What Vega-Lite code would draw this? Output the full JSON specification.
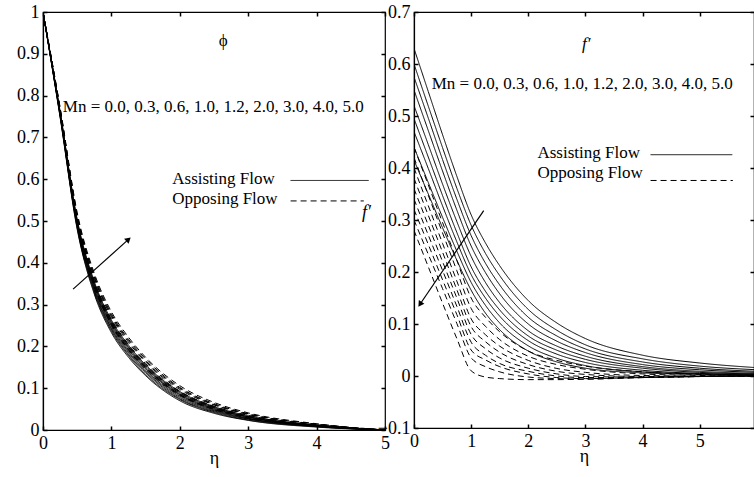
{
  "$schema": "https://vega.github.io/schema/vega-lite/v6.json",
  "background": "white",
  "padding": {"left": 15, "top": 2, "right": 0, "bottom": 0},
  "bounds": "flush",
  "spacing": 29,
  "config": {
    "font": "Liberation Serif",
    "view": {"stroke": "black", "strokeWidth": 1.2},
    "axis": {"grid": false},
    "text": {"font": "Liberation Serif", "fontSize": 17, "color": "black"}
  },
  "datasets": {
    "phi": [
      {"Mn": "0.0", "flow": "Assisting", "eta": 0, "phi": 1}, {"Mn": "0.0", "flow": "Assisting", "eta": 0.25, "phi": 0.748}, {"Mn": "0.0", "flow": "Assisting", "eta": 0.5, "phi": 0.48}, {"Mn": "0.0", "flow": "Assisting", "eta": 0.75, "phi": 0.325}, {"Mn": "0.0", "flow": "Assisting", "eta": 1, "phi": 0.233}, {"Mn": "0.0", "flow": "Assisting", "eta": 1.25, "phi": 0.174}, {"Mn": "0.0", "flow": "Assisting", "eta": 1.5, "phi": 0.13}, {"Mn": "0.0", "flow": "Assisting", "eta": 2, "phi": 0.07}, {"Mn": "0.0", "flow": "Assisting", "eta": 2.5, "phi": 0.04}, {"Mn": "0.0", "flow": "Assisting", "eta": 3, "phi": 0.023}, {"Mn": "0.0", "flow": "Assisting", "eta": 4, "phi": 0.007}, {"Mn": "0.0", "flow": "Assisting", "eta": 5, "phi": 0},
      {"Mn": "0.3", "flow": "Assisting", "eta": 0, "phi": 1}, {"Mn": "0.3", "flow": "Assisting", "eta": 0.25, "phi": 0.75}, {"Mn": "0.3", "flow": "Assisting", "eta": 0.5, "phi": 0.483}, {"Mn": "0.3", "flow": "Assisting", "eta": 0.75, "phi": 0.329}, {"Mn": "0.3", "flow": "Assisting", "eta": 1, "phi": 0.237}, {"Mn": "0.3", "flow": "Assisting", "eta": 1.25, "phi": 0.178}, {"Mn": "0.3", "flow": "Assisting", "eta": 1.5, "phi": 0.133}, {"Mn": "0.3", "flow": "Assisting", "eta": 2, "phi": 0.073}, {"Mn": "0.3", "flow": "Assisting", "eta": 2.5, "phi": 0.042}, {"Mn": "0.3", "flow": "Assisting", "eta": 3, "phi": 0.024}, {"Mn": "0.3", "flow": "Assisting", "eta": 4, "phi": 0.008}, {"Mn": "0.3", "flow": "Assisting", "eta": 5, "phi": 0},
      {"Mn": "0.6", "flow": "Assisting", "eta": 0, "phi": 1}, {"Mn": "0.6", "flow": "Assisting", "eta": 0.25, "phi": 0.752}, {"Mn": "0.6", "flow": "Assisting", "eta": 0.5, "phi": 0.486}, {"Mn": "0.6", "flow": "Assisting", "eta": 0.75, "phi": 0.333}, {"Mn": "0.6", "flow": "Assisting", "eta": 1, "phi": 0.241}, {"Mn": "0.6", "flow": "Assisting", "eta": 1.25, "phi": 0.181}, {"Mn": "0.6", "flow": "Assisting", "eta": 1.5, "phi": 0.137}, {"Mn": "0.6", "flow": "Assisting", "eta": 2, "phi": 0.075}, {"Mn": "0.6", "flow": "Assisting", "eta": 2.5, "phi": 0.044}, {"Mn": "0.6", "flow": "Assisting", "eta": 3, "phi": 0.026}, {"Mn": "0.6", "flow": "Assisting", "eta": 4, "phi": 0.008}, {"Mn": "0.6", "flow": "Assisting", "eta": 5, "phi": 0},
      {"Mn": "1.0", "flow": "Assisting", "eta": 0, "phi": 1}, {"Mn": "1.0", "flow": "Assisting", "eta": 0.25, "phi": 0.753}, {"Mn": "1.0", "flow": "Assisting", "eta": 0.5, "phi": 0.489}, {"Mn": "1.0", "flow": "Assisting", "eta": 0.75, "phi": 0.336}, {"Mn": "1.0", "flow": "Assisting", "eta": 1, "phi": 0.244}, {"Mn": "1.0", "flow": "Assisting", "eta": 1.25, "phi": 0.185}, {"Mn": "1.0", "flow": "Assisting", "eta": 1.5, "phi": 0.14}, {"Mn": "1.0", "flow": "Assisting", "eta": 2, "phi": 0.078}, {"Mn": "1.0", "flow": "Assisting", "eta": 2.5, "phi": 0.046}, {"Mn": "1.0", "flow": "Assisting", "eta": 3, "phi": 0.027}, {"Mn": "1.0", "flow": "Assisting", "eta": 4, "phi": 0.009}, {"Mn": "1.0", "flow": "Assisting", "eta": 5, "phi": 0},
      {"Mn": "1.2", "flow": "Assisting", "eta": 0, "phi": 1}, {"Mn": "1.2", "flow": "Assisting", "eta": 0.25, "phi": 0.755}, {"Mn": "1.2", "flow": "Assisting", "eta": 0.5, "phi": 0.492}, {"Mn": "1.2", "flow": "Assisting", "eta": 0.75, "phi": 0.34}, {"Mn": "1.2", "flow": "Assisting", "eta": 1, "phi": 0.248}, {"Mn": "1.2", "flow": "Assisting", "eta": 1.25, "phi": 0.188}, {"Mn": "1.2", "flow": "Assisting", "eta": 1.5, "phi": 0.143}, {"Mn": "1.2", "flow": "Assisting", "eta": 2, "phi": 0.081}, {"Mn": "1.2", "flow": "Assisting", "eta": 2.5, "phi": 0.048}, {"Mn": "1.2", "flow": "Assisting", "eta": 3, "phi": 0.028}, {"Mn": "1.2", "flow": "Assisting", "eta": 4, "phi": 0.009}, {"Mn": "1.2", "flow": "Assisting", "eta": 5, "phi": 0},
      {"Mn": "2.0", "flow": "Assisting", "eta": 0, "phi": 1}, {"Mn": "2.0", "flow": "Assisting", "eta": 0.25, "phi": 0.757}, {"Mn": "2.0", "flow": "Assisting", "eta": 0.5, "phi": 0.495}, {"Mn": "2.0", "flow": "Assisting", "eta": 0.75, "phi": 0.344}, {"Mn": "2.0", "flow": "Assisting", "eta": 1, "phi": 0.252}, {"Mn": "2.0", "flow": "Assisting", "eta": 1.25, "phi": 0.192}, {"Mn": "2.0", "flow": "Assisting", "eta": 1.5, "phi": 0.147}, {"Mn": "2.0", "flow": "Assisting", "eta": 2, "phi": 0.084}, {"Mn": "2.0", "flow": "Assisting", "eta": 2.5, "phi": 0.05}, {"Mn": "2.0", "flow": "Assisting", "eta": 3, "phi": 0.03}, {"Mn": "2.0", "flow": "Assisting", "eta": 4, "phi": 0.01}, {"Mn": "2.0", "flow": "Assisting", "eta": 5, "phi": 0},
      {"Mn": "3.0", "flow": "Assisting", "eta": 0, "phi": 1}, {"Mn": "3.0", "flow": "Assisting", "eta": 0.25, "phi": 0.759}, {"Mn": "3.0", "flow": "Assisting", "eta": 0.5, "phi": 0.498}, {"Mn": "3.0", "flow": "Assisting", "eta": 0.75, "phi": 0.348}, {"Mn": "3.0", "flow": "Assisting", "eta": 1, "phi": 0.256}, {"Mn": "3.0", "flow": "Assisting", "eta": 1.25, "phi": 0.196}, {"Mn": "3.0", "flow": "Assisting", "eta": 1.5, "phi": 0.15}, {"Mn": "3.0", "flow": "Assisting", "eta": 2, "phi": 0.086}, {"Mn": "3.0", "flow": "Assisting", "eta": 2.5, "phi": 0.052}, {"Mn": "3.0", "flow": "Assisting", "eta": 3, "phi": 0.031}, {"Mn": "3.0", "flow": "Assisting", "eta": 4, "phi": 0.011}, {"Mn": "3.0", "flow": "Assisting", "eta": 5, "phi": 0},
      {"Mn": "4.0", "flow": "Assisting", "eta": 0, "phi": 1}, {"Mn": "4.0", "flow": "Assisting", "eta": 0.25, "phi": 0.761}, {"Mn": "4.0", "flow": "Assisting", "eta": 0.5, "phi": 0.501}, {"Mn": "4.0", "flow": "Assisting", "eta": 0.75, "phi": 0.351}, {"Mn": "4.0", "flow": "Assisting", "eta": 1, "phi": 0.259}, {"Mn": "4.0", "flow": "Assisting", "eta": 1.25, "phi": 0.199}, {"Mn": "4.0", "flow": "Assisting", "eta": 1.5, "phi": 0.153}, {"Mn": "4.0", "flow": "Assisting", "eta": 2, "phi": 0.089}, {"Mn": "4.0", "flow": "Assisting", "eta": 2.5, "phi": 0.054}, {"Mn": "4.0", "flow": "Assisting", "eta": 3, "phi": 0.032}, {"Mn": "4.0", "flow": "Assisting", "eta": 4, "phi": 0.011}, {"Mn": "4.0", "flow": "Assisting", "eta": 5, "phi": 0},
      {"Mn": "5.0", "flow": "Assisting", "eta": 0, "phi": 1}, {"Mn": "5.0", "flow": "Assisting", "eta": 0.25, "phi": 0.762}, {"Mn": "5.0", "flow": "Assisting", "eta": 0.5, "phi": 0.504}, {"Mn": "5.0", "flow": "Assisting", "eta": 0.75, "phi": 0.355}, {"Mn": "5.0", "flow": "Assisting", "eta": 1, "phi": 0.263}, {"Mn": "5.0", "flow": "Assisting", "eta": 1.25, "phi": 0.203}, {"Mn": "5.0", "flow": "Assisting", "eta": 1.5, "phi": 0.156}, {"Mn": "5.0", "flow": "Assisting", "eta": 2, "phi": 0.092}, {"Mn": "5.0", "flow": "Assisting", "eta": 2.5, "phi": 0.056}, {"Mn": "5.0", "flow": "Assisting", "eta": 3, "phi": 0.034}, {"Mn": "5.0", "flow": "Assisting", "eta": 4, "phi": 0.012}, {"Mn": "5.0", "flow": "Assisting", "eta": 5, "phi": 0},
      {"Mn": "0.0", "flow": "Opposing", "eta": 0, "phi": 1}, {"Mn": "0.0", "flow": "Opposing", "eta": 0.25, "phi": 0.756}, {"Mn": "0.0", "flow": "Opposing", "eta": 0.5, "phi": 0.494}, {"Mn": "0.0", "flow": "Opposing", "eta": 0.75, "phi": 0.343}, {"Mn": "0.0", "flow": "Opposing", "eta": 1, "phi": 0.251}, {"Mn": "0.0", "flow": "Opposing", "eta": 1.25, "phi": 0.191}, {"Mn": "0.0", "flow": "Opposing", "eta": 1.5, "phi": 0.145}, {"Mn": "0.0", "flow": "Opposing", "eta": 2, "phi": 0.083}, {"Mn": "0.0", "flow": "Opposing", "eta": 2.5, "phi": 0.049}, {"Mn": "0.0", "flow": "Opposing", "eta": 3, "phi": 0.029}, {"Mn": "0.0", "flow": "Opposing", "eta": 4, "phi": 0.01}, {"Mn": "0.0", "flow": "Opposing", "eta": 5, "phi": 0},
      {"Mn": "0.3", "flow": "Opposing", "eta": 0, "phi": 1}, {"Mn": "0.3", "flow": "Opposing", "eta": 0.25, "phi": 0.758}, {"Mn": "0.3", "flow": "Opposing", "eta": 0.5, "phi": 0.497}, {"Mn": "0.3", "flow": "Opposing", "eta": 0.75, "phi": 0.346}, {"Mn": "0.3", "flow": "Opposing", "eta": 1, "phi": 0.254}, {"Mn": "0.3", "flow": "Opposing", "eta": 1.25, "phi": 0.194}, {"Mn": "0.3", "flow": "Opposing", "eta": 1.5, "phi": 0.149}, {"Mn": "0.3", "flow": "Opposing", "eta": 2, "phi": 0.085}, {"Mn": "0.3", "flow": "Opposing", "eta": 2.5, "phi": 0.051}, {"Mn": "0.3", "flow": "Opposing", "eta": 3, "phi": 0.031}, {"Mn": "0.3", "flow": "Opposing", "eta": 4, "phi": 0.01}, {"Mn": "0.3", "flow": "Opposing", "eta": 5, "phi": 0},
      {"Mn": "0.6", "flow": "Opposing", "eta": 0, "phi": 1}, {"Mn": "0.6", "flow": "Opposing", "eta": 0.25, "phi": 0.76}, {"Mn": "0.6", "flow": "Opposing", "eta": 0.5, "phi": 0.5}, {"Mn": "0.6", "flow": "Opposing", "eta": 0.75, "phi": 0.35}, {"Mn": "0.6", "flow": "Opposing", "eta": 1, "phi": 0.258}, {"Mn": "0.6", "flow": "Opposing", "eta": 1.25, "phi": 0.198}, {"Mn": "0.6", "flow": "Opposing", "eta": 1.5, "phi": 0.152}, {"Mn": "0.6", "flow": "Opposing", "eta": 2, "phi": 0.088}, {"Mn": "0.6", "flow": "Opposing", "eta": 2.5, "phi": 0.053}, {"Mn": "0.6", "flow": "Opposing", "eta": 3, "phi": 0.032}, {"Mn": "0.6", "flow": "Opposing", "eta": 4, "phi": 0.011}, {"Mn": "0.6", "flow": "Opposing", "eta": 5, "phi": 0},
      {"Mn": "1.0", "flow": "Opposing", "eta": 0, "phi": 1}, {"Mn": "1.0", "flow": "Opposing", "eta": 0.25, "phi": 0.762}, {"Mn": "1.0", "flow": "Opposing", "eta": 0.5, "phi": 0.503}, {"Mn": "1.0", "flow": "Opposing", "eta": 0.75, "phi": 0.354}, {"Mn": "1.0", "flow": "Opposing", "eta": 1, "phi": 0.262}, {"Mn": "1.0", "flow": "Opposing", "eta": 1.25, "phi": 0.202}, {"Mn": "1.0", "flow": "Opposing", "eta": 1.5, "phi": 0.155}, {"Mn": "1.0", "flow": "Opposing", "eta": 2, "phi": 0.091}, {"Mn": "1.0", "flow": "Opposing", "eta": 2.5, "phi": 0.055}, {"Mn": "1.0", "flow": "Opposing", "eta": 3, "phi": 0.033}, {"Mn": "1.0", "flow": "Opposing", "eta": 4, "phi": 0.012}, {"Mn": "1.0", "flow": "Opposing", "eta": 5, "phi": 0},
      {"Mn": "1.2", "flow": "Opposing", "eta": 0, "phi": 1}, {"Mn": "1.2", "flow": "Opposing", "eta": 0.25, "phi": 0.764}, {"Mn": "1.2", "flow": "Opposing", "eta": 0.5, "phi": 0.506}, {"Mn": "1.2", "flow": "Opposing", "eta": 0.75, "phi": 0.358}, {"Mn": "1.2", "flow": "Opposing", "eta": 1, "phi": 0.266}, {"Mn": "1.2", "flow": "Opposing", "eta": 1.25, "phi": 0.205}, {"Mn": "1.2", "flow": "Opposing", "eta": 1.5, "phi": 0.159}, {"Mn": "1.2", "flow": "Opposing", "eta": 2, "phi": 0.093}, {"Mn": "1.2", "flow": "Opposing", "eta": 2.5, "phi": 0.057}, {"Mn": "1.2", "flow": "Opposing", "eta": 3, "phi": 0.035}, {"Mn": "1.2", "flow": "Opposing", "eta": 4, "phi": 0.012}, {"Mn": "1.2", "flow": "Opposing", "eta": 5, "phi": 0},
      {"Mn": "2.0", "flow": "Opposing", "eta": 0, "phi": 1}, {"Mn": "2.0", "flow": "Opposing", "eta": 0.25, "phi": 0.766}, {"Mn": "2.0", "flow": "Opposing", "eta": 0.5, "phi": 0.51}, {"Mn": "2.0", "flow": "Opposing", "eta": 0.75, "phi": 0.363}, {"Mn": "2.0", "flow": "Opposing", "eta": 1, "phi": 0.271}, {"Mn": "2.0", "flow": "Opposing", "eta": 1.25, "phi": 0.21}, {"Mn": "2.0", "flow": "Opposing", "eta": 1.5, "phi": 0.163}, {"Mn": "2.0", "flow": "Opposing", "eta": 2, "phi": 0.097}, {"Mn": "2.0", "flow": "Opposing", "eta": 2.5, "phi": 0.06}, {"Mn": "2.0", "flow": "Opposing", "eta": 3, "phi": 0.037}, {"Mn": "2.0", "flow": "Opposing", "eta": 4, "phi": 0.013}, {"Mn": "2.0", "flow": "Opposing", "eta": 5, "phi": 0},
      {"Mn": "3.0", "flow": "Opposing", "eta": 0, "phi": 1}, {"Mn": "3.0", "flow": "Opposing", "eta": 0.25, "phi": 0.768}, {"Mn": "3.0", "flow": "Opposing", "eta": 0.5, "phi": 0.513}, {"Mn": "3.0", "flow": "Opposing", "eta": 0.75, "phi": 0.366}, {"Mn": "3.0", "flow": "Opposing", "eta": 1, "phi": 0.274}, {"Mn": "3.0", "flow": "Opposing", "eta": 1.25, "phi": 0.214}, {"Mn": "3.0", "flow": "Opposing", "eta": 1.5, "phi": 0.166}, {"Mn": "3.0", "flow": "Opposing", "eta": 2, "phi": 0.1}, {"Mn": "3.0", "flow": "Opposing", "eta": 2.5, "phi": 0.061}, {"Mn": "3.0", "flow": "Opposing", "eta": 3, "phi": 0.038}, {"Mn": "3.0", "flow": "Opposing", "eta": 4, "phi": 0.014}, {"Mn": "3.0", "flow": "Opposing", "eta": 5, "phi": 0},
      {"Mn": "4.0", "flow": "Opposing", "eta": 0, "phi": 1}, {"Mn": "4.0", "flow": "Opposing", "eta": 0.25, "phi": 0.77}, {"Mn": "4.0", "flow": "Opposing", "eta": 0.5, "phi": 0.516}, {"Mn": "4.0", "flow": "Opposing", "eta": 0.75, "phi": 0.37}, {"Mn": "4.0", "flow": "Opposing", "eta": 1, "phi": 0.278}, {"Mn": "4.0", "flow": "Opposing", "eta": 1.25, "phi": 0.217}, {"Mn": "4.0", "flow": "Opposing", "eta": 1.5, "phi": 0.17}, {"Mn": "4.0", "flow": "Opposing", "eta": 2, "phi": 0.102}, {"Mn": "4.0", "flow": "Opposing", "eta": 2.5, "phi": 0.063}, {"Mn": "4.0", "flow": "Opposing", "eta": 3, "phi": 0.039}, {"Mn": "4.0", "flow": "Opposing", "eta": 4, "phi": 0.014}, {"Mn": "4.0", "flow": "Opposing", "eta": 5, "phi": 0},
      {"Mn": "5.0", "flow": "Opposing", "eta": 0, "phi": 1}, {"Mn": "5.0", "flow": "Opposing", "eta": 0.25, "phi": 0.772}, {"Mn": "5.0", "flow": "Opposing", "eta": 0.5, "phi": 0.52}, {"Mn": "5.0", "flow": "Opposing", "eta": 0.75, "phi": 0.375}, {"Mn": "5.0", "flow": "Opposing", "eta": 1, "phi": 0.283}, {"Mn": "5.0", "flow": "Opposing", "eta": 1.25, "phi": 0.222}, {"Mn": "5.0", "flow": "Opposing", "eta": 1.5, "phi": 0.174}, {"Mn": "5.0", "flow": "Opposing", "eta": 2, "phi": 0.106}, {"Mn": "5.0", "flow": "Opposing", "eta": 2.5, "phi": 0.066}, {"Mn": "5.0", "flow": "Opposing", "eta": 3, "phi": 0.041}, {"Mn": "5.0", "flow": "Opposing", "eta": 4, "phi": 0.015}, {"Mn": "5.0", "flow": "Opposing", "eta": 5, "phi": 0}
    ],
    "fp": [
      {"Mn": "0.0", "flow": "Assisting", "eta": 0, "fp": 0.63}, {"Mn": "0.0", "flow": "Assisting", "eta": 0.25, "fp": 0.547}, {"Mn": "0.0", "flow": "Assisting", "eta": 0.5, "fp": 0.464}, {"Mn": "0.0", "flow": "Assisting", "eta": 0.75, "fp": 0.384}, {"Mn": "0.0", "flow": "Assisting", "eta": 1, "fp": 0.31}, {"Mn": "0.0", "flow": "Assisting", "eta": 1.25, "fp": 0.256}, {"Mn": "0.0", "flow": "Assisting", "eta": 1.5, "fp": 0.212}, {"Mn": "0.0", "flow": "Assisting", "eta": 2, "fp": 0.145}, {"Mn": "0.0", "flow": "Assisting", "eta": 2.5, "fp": 0.102}, {"Mn": "0.0", "flow": "Assisting", "eta": 3, "fp": 0.072}, {"Mn": "0.0", "flow": "Assisting", "eta": 4, "fp": 0.04}, {"Mn": "0.0", "flow": "Assisting", "eta": 5, "fp": 0.025}, {"Mn": "0.0", "flow": "Assisting", "eta": 6, "fp": 0.016},
      {"Mn": "0.3", "flow": "Assisting", "eta": 0, "fp": 0.6}, {"Mn": "0.3", "flow": "Assisting", "eta": 0.25, "fp": 0.519}, {"Mn": "0.3", "flow": "Assisting", "eta": 0.5, "fp": 0.439}, {"Mn": "0.3", "flow": "Assisting", "eta": 0.75, "fp": 0.361}, {"Mn": "0.3", "flow": "Assisting", "eta": 1, "fp": 0.29}, {"Mn": "0.3", "flow": "Assisting", "eta": 1.25, "fp": 0.236}, {"Mn": "0.3", "flow": "Assisting", "eta": 1.5, "fp": 0.193}, {"Mn": "0.3", "flow": "Assisting", "eta": 2, "fp": 0.128}, {"Mn": "0.3", "flow": "Assisting", "eta": 2.5, "fp": 0.088}, {"Mn": "0.3", "flow": "Assisting", "eta": 3, "fp": 0.06}, {"Mn": "0.3", "flow": "Assisting", "eta": 4, "fp": 0.033}, {"Mn": "0.3", "flow": "Assisting", "eta": 5, "fp": 0.019}, {"Mn": "0.3", "flow": "Assisting", "eta": 6, "fp": 0.012},
      {"Mn": "0.6", "flow": "Assisting", "eta": 0, "fp": 0.575}, {"Mn": "0.6", "flow": "Assisting", "eta": 0.25, "fp": 0.496}, {"Mn": "0.6", "flow": "Assisting", "eta": 0.5, "fp": 0.416}, {"Mn": "0.6", "flow": "Assisting", "eta": 0.75, "fp": 0.34}, {"Mn": "0.6", "flow": "Assisting", "eta": 1, "fp": 0.27}, {"Mn": "0.6", "flow": "Assisting", "eta": 1.25, "fp": 0.217}, {"Mn": "0.6", "flow": "Assisting", "eta": 1.5, "fp": 0.175}, {"Mn": "0.6", "flow": "Assisting", "eta": 2, "fp": 0.113}, {"Mn": "0.6", "flow": "Assisting", "eta": 2.5, "fp": 0.077}, {"Mn": "0.6", "flow": "Assisting", "eta": 3, "fp": 0.052}, {"Mn": "0.6", "flow": "Assisting", "eta": 4, "fp": 0.027}, {"Mn": "0.6", "flow": "Assisting", "eta": 5, "fp": 0.015}, {"Mn": "0.6", "flow": "Assisting", "eta": 6, "fp": 0.009},
      {"Mn": "1.0", "flow": "Assisting", "eta": 0, "fp": 0.55}, {"Mn": "1.0", "flow": "Assisting", "eta": 0.25, "fp": 0.472}, {"Mn": "1.0", "flow": "Assisting", "eta": 0.5, "fp": 0.394}, {"Mn": "1.0", "flow": "Assisting", "eta": 0.75, "fp": 0.319}, {"Mn": "1.0", "flow": "Assisting", "eta": 1, "fp": 0.25}, {"Mn": "1.0", "flow": "Assisting", "eta": 1.25, "fp": 0.199}, {"Mn": "1.0", "flow": "Assisting", "eta": 1.5, "fp": 0.158}, {"Mn": "1.0", "flow": "Assisting", "eta": 2, "fp": 0.1}, {"Mn": "1.0", "flow": "Assisting", "eta": 2.5, "fp": 0.067}, {"Mn": "1.0", "flow": "Assisting", "eta": 3, "fp": 0.045}, {"Mn": "1.0", "flow": "Assisting", "eta": 4, "fp": 0.022}, {"Mn": "1.0", "flow": "Assisting", "eta": 5, "fp": 0.012}, {"Mn": "1.0", "flow": "Assisting", "eta": 6, "fp": 0.007},
      {"Mn": "1.2", "flow": "Assisting", "eta": 0, "fp": 0.52}, {"Mn": "1.2", "flow": "Assisting", "eta": 0.25, "fp": 0.445}, {"Mn": "1.2", "flow": "Assisting", "eta": 0.5, "fp": 0.369}, {"Mn": "1.2", "flow": "Assisting", "eta": 0.75, "fp": 0.297}, {"Mn": "1.2", "flow": "Assisting", "eta": 1, "fp": 0.23}, {"Mn": "1.2", "flow": "Assisting", "eta": 1.25, "fp": 0.18}, {"Mn": "1.2", "flow": "Assisting", "eta": 1.5, "fp": 0.141}, {"Mn": "1.2", "flow": "Assisting", "eta": 2, "fp": 0.087}, {"Mn": "1.2", "flow": "Assisting", "eta": 2.5, "fp": 0.0575}, {"Mn": "1.2", "flow": "Assisting", "eta": 3, "fp": 0.038}, {"Mn": "1.2", "flow": "Assisting", "eta": 4, "fp": 0.018}, {"Mn": "1.2", "flow": "Assisting", "eta": 5, "fp": 0.009}, {"Mn": "1.2", "flow": "Assisting", "eta": 6, "fp": 0.005},
      {"Mn": "2.0", "flow": "Assisting", "eta": 0, "fp": 0.495}, {"Mn": "2.0", "flow": "Assisting", "eta": 0.25, "fp": 0.421}, {"Mn": "2.0", "flow": "Assisting", "eta": 0.5, "fp": 0.347}, {"Mn": "2.0", "flow": "Assisting", "eta": 0.75, "fp": 0.276}, {"Mn": "2.0", "flow": "Assisting", "eta": 1, "fp": 0.21}, {"Mn": "2.0", "flow": "Assisting", "eta": 1.25, "fp": 0.163}, {"Mn": "2.0", "flow": "Assisting", "eta": 1.5, "fp": 0.127}, {"Mn": "2.0", "flow": "Assisting", "eta": 2, "fp": 0.077}, {"Mn": "2.0", "flow": "Assisting", "eta": 2.5, "fp": 0.0496}, {"Mn": "2.0", "flow": "Assisting", "eta": 3, "fp": 0.032}, {"Mn": "2.0", "flow": "Assisting", "eta": 4, "fp": 0.015}, {"Mn": "2.0", "flow": "Assisting", "eta": 5, "fp": 0.007}, {"Mn": "2.0", "flow": "Assisting", "eta": 6, "fp": 0.004},
      {"Mn": "3.0", "flow": "Assisting", "eta": 0, "fp": 0.47}, {"Mn": "3.0", "flow": "Assisting", "eta": 0.25, "fp": 0.399}, {"Mn": "3.0", "flow": "Assisting", "eta": 0.5, "fp": 0.327}, {"Mn": "3.0", "flow": "Assisting", "eta": 0.75, "fp": 0.258}, {"Mn": "3.0", "flow": "Assisting", "eta": 1, "fp": 0.195}, {"Mn": "3.0", "flow": "Assisting", "eta": 1.25, "fp": 0.15}, {"Mn": "3.0", "flow": "Assisting", "eta": 1.5, "fp": 0.115}, {"Mn": "3.0", "flow": "Assisting", "eta": 2, "fp": 0.068}, {"Mn": "3.0", "flow": "Assisting", "eta": 2.5, "fp": 0.042}, {"Mn": "3.0", "flow": "Assisting", "eta": 3, "fp": 0.026}, {"Mn": "3.0", "flow": "Assisting", "eta": 4, "fp": 0.011}, {"Mn": "3.0", "flow": "Assisting", "eta": 5, "fp": 0.005}, {"Mn": "3.0", "flow": "Assisting", "eta": 6, "fp": 0.003},
      {"Mn": "4.0", "flow": "Assisting", "eta": 0, "fp": 0.44}, {"Mn": "4.0", "flow": "Assisting", "eta": 0.25, "fp": 0.372}, {"Mn": "4.0", "flow": "Assisting", "eta": 0.5, "fp": 0.305}, {"Mn": "4.0", "flow": "Assisting", "eta": 0.75, "fp": 0.24}, {"Mn": "4.0", "flow": "Assisting", "eta": 1, "fp": 0.18}, {"Mn": "4.0", "flow": "Assisting", "eta": 1.25, "fp": 0.136}, {"Mn": "4.0", "flow": "Assisting", "eta": 1.5, "fp": 0.102}, {"Mn": "4.0", "flow": "Assisting", "eta": 2, "fp": 0.058}, {"Mn": "4.0", "flow": "Assisting", "eta": 2.5, "fp": 0.034}, {"Mn": "4.0", "flow": "Assisting", "eta": 3, "fp": 0.02}, {"Mn": "4.0", "flow": "Assisting", "eta": 4, "fp": 0.008}, {"Mn": "4.0", "flow": "Assisting", "eta": 5, "fp": 0.004}, {"Mn": "4.0", "flow": "Assisting", "eta": 6, "fp": 0.002},
      {"Mn": "5.0", "flow": "Assisting", "eta": 0, "fp": 0.415}, {"Mn": "5.0", "flow": "Assisting", "eta": 0.25, "fp": 0.35}, {"Mn": "5.0", "flow": "Assisting", "eta": 0.5, "fp": 0.285}, {"Mn": "5.0", "flow": "Assisting", "eta": 0.75, "fp": 0.2225}, {"Mn": "5.0", "flow": "Assisting", "eta": 1, "fp": 0.165}, {"Mn": "5.0", "flow": "Assisting", "eta": 1.25, "fp": 0.121}, {"Mn": "5.0", "flow": "Assisting", "eta": 1.5, "fp": 0.089}, {"Mn": "5.0", "flow": "Assisting", "eta": 2, "fp": 0.048}, {"Mn": "5.0", "flow": "Assisting", "eta": 2.5, "fp": 0.027}, {"Mn": "5.0", "flow": "Assisting", "eta": 3, "fp": 0.015}, {"Mn": "5.0", "flow": "Assisting", "eta": 4, "fp": 0.006}, {"Mn": "5.0", "flow": "Assisting", "eta": 5, "fp": 0.003}, {"Mn": "5.0", "flow": "Assisting", "eta": 6, "fp": 0.001},
      {"Mn": "0.0", "flow": "Opposing", "eta": 0, "fp": 0.44}, {"Mn": "0.0", "flow": "Opposing", "eta": 0.25, "fp": 0.3675}, {"Mn": "0.0", "flow": "Opposing", "eta": 0.5, "fp": 0.295}, {"Mn": "0.0", "flow": "Opposing", "eta": 0.75, "fp": 0.2225}, {"Mn": "0.0", "flow": "Opposing", "eta": 1, "fp": 0.15}, {"Mn": "0.0", "flow": "Opposing", "eta": 1.25, "fp": 0.113}, {"Mn": "0.0", "flow": "Opposing", "eta": 1.5, "fp": 0.085}, {"Mn": "0.0", "flow": "Opposing", "eta": 2, "fp": 0.048}, {"Mn": "0.0", "flow": "Opposing", "eta": 2.5, "fp": 0.03}, {"Mn": "0.0", "flow": "Opposing", "eta": 3, "fp": 0.019}, {"Mn": "0.0", "flow": "Opposing", "eta": 4, "fp": 0.008}, {"Mn": "0.0", "flow": "Opposing", "eta": 5, "fp": 0.003}, {"Mn": "0.0", "flow": "Opposing", "eta": 6, "fp": 0.001},
      {"Mn": "0.3", "flow": "Opposing", "eta": 0, "fp": 0.42}, {"Mn": "0.3", "flow": "Opposing", "eta": 0.25, "fp": 0.3475}, {"Mn": "0.3", "flow": "Opposing", "eta": 0.5, "fp": 0.275}, {"Mn": "0.3", "flow": "Opposing", "eta": 0.75, "fp": 0.2025}, {"Mn": "0.3", "flow": "Opposing", "eta": 1, "fp": 0.13}, {"Mn": "0.3", "flow": "Opposing", "eta": 1.25, "fp": 0.0956}, {"Mn": "0.3", "flow": "Opposing", "eta": 1.5, "fp": 0.07}, {"Mn": "0.3", "flow": "Opposing", "eta": 2, "fp": 0.038}, {"Mn": "0.3", "flow": "Opposing", "eta": 2.5, "fp": 0.022}, {"Mn": "0.3", "flow": "Opposing", "eta": 3, "fp": 0.013}, {"Mn": "0.3", "flow": "Opposing", "eta": 4, "fp": 0.004}, {"Mn": "0.3", "flow": "Opposing", "eta": 5, "fp": 0.001}, {"Mn": "0.3", "flow": "Opposing", "eta": 6, "fp": 0},
      {"Mn": "0.6", "flow": "Opposing", "eta": 0, "fp": 0.4}, {"Mn": "0.6", "flow": "Opposing", "eta": 0.25, "fp": 0.3275}, {"Mn": "0.6", "flow": "Opposing", "eta": 0.5, "fp": 0.255}, {"Mn": "0.6", "flow": "Opposing", "eta": 0.75, "fp": 0.1825}, {"Mn": "0.6", "flow": "Opposing", "eta": 1, "fp": 0.11}, {"Mn": "0.6", "flow": "Opposing", "eta": 1.25, "fp": 0.0795}, {"Mn": "0.6", "flow": "Opposing", "eta": 1.5, "fp": 0.0574}, {"Mn": "0.6", "flow": "Opposing", "eta": 2, "fp": 0.03}, {"Mn": "0.6", "flow": "Opposing", "eta": 2.5, "fp": 0.0145}, {"Mn": "0.6", "flow": "Opposing", "eta": 3, "fp": 0.007}, {"Mn": "0.6", "flow": "Opposing", "eta": 4, "fp": 0.001}, {"Mn": "0.6", "flow": "Opposing", "eta": 5, "fp": 0}, {"Mn": "0.6", "flow": "Opposing", "eta": 6, "fp": 0},
      {"Mn": "1.0", "flow": "Opposing", "eta": 0, "fp": 0.38}, {"Mn": "1.0", "flow": "Opposing", "eta": 0.25, "fp": 0.309}, {"Mn": "1.0", "flow": "Opposing", "eta": 0.5, "fp": 0.238}, {"Mn": "1.0", "flow": "Opposing", "eta": 0.75, "fp": 0.166}, {"Mn": "1.0", "flow": "Opposing", "eta": 1, "fp": 0.095}, {"Mn": "1.0", "flow": "Opposing", "eta": 1.25, "fp": 0.066}, {"Mn": "1.0", "flow": "Opposing", "eta": 1.5, "fp": 0.0457}, {"Mn": "1.0", "flow": "Opposing", "eta": 2, "fp": 0.022}, {"Mn": "1.0", "flow": "Opposing", "eta": 2.5, "fp": 0.009}, {"Mn": "1.0", "flow": "Opposing", "eta": 3, "fp": 0.003}, {"Mn": "1.0", "flow": "Opposing", "eta": 4, "fp": -0.001}, {"Mn": "1.0", "flow": "Opposing", "eta": 5, "fp": -0.001}, {"Mn": "1.0", "flow": "Opposing", "eta": 6, "fp": 0},
      {"Mn": "1.2", "flow": "Opposing", "eta": 0, "fp": 0.36}, {"Mn": "1.2", "flow": "Opposing", "eta": 0.25, "fp": 0.29}, {"Mn": "1.2", "flow": "Opposing", "eta": 0.5, "fp": 0.22}, {"Mn": "1.2", "flow": "Opposing", "eta": 0.75, "fp": 0.15}, {"Mn": "1.2", "flow": "Opposing", "eta": 1, "fp": 0.08}, {"Mn": "1.2", "flow": "Opposing", "eta": 1.25, "fp": 0.0526}, {"Mn": "1.2", "flow": "Opposing", "eta": 1.5, "fp": 0.0346}, {"Mn": "1.2", "flow": "Opposing", "eta": 2, "fp": 0.015}, {"Mn": "1.2", "flow": "Opposing", "eta": 2.5, "fp": 0.004}, {"Mn": "1.2", "flow": "Opposing", "eta": 3, "fp": -0.001}, {"Mn": "1.2", "flow": "Opposing", "eta": 4, "fp": -0.002}, {"Mn": "1.2", "flow": "Opposing", "eta": 5, "fp": -0.001}, {"Mn": "1.2", "flow": "Opposing", "eta": 6, "fp": 0},
      {"Mn": "2.0", "flow": "Opposing", "eta": 0, "fp": 0.34}, {"Mn": "2.0", "flow": "Opposing", "eta": 0.25, "fp": 0.271}, {"Mn": "2.0", "flow": "Opposing", "eta": 0.5, "fp": 0.203}, {"Mn": "2.0", "flow": "Opposing", "eta": 0.75, "fp": 0.134}, {"Mn": "2.0", "flow": "Opposing", "eta": 1, "fp": 0.065}, {"Mn": "2.0", "flow": "Opposing", "eta": 1.25, "fp": 0.04}, {"Mn": "2.0", "flow": "Opposing", "eta": 1.5, "fp": 0.024}, {"Mn": "2.0", "flow": "Opposing", "eta": 2, "fp": 0.009}, {"Mn": "2.0", "flow": "Opposing", "eta": 2.5, "fp": 0}, {"Mn": "2.0", "flow": "Opposing", "eta": 3, "fp": -0.003}, {"Mn": "2.0", "flow": "Opposing", "eta": 4, "fp": -0.003}, {"Mn": "2.0", "flow": "Opposing", "eta": 5, "fp": -0.001}, {"Mn": "2.0", "flow": "Opposing", "eta": 6, "fp": 0},
      {"Mn": "3.0", "flow": "Opposing", "eta": 0, "fp": 0.32}, {"Mn": "3.0", "flow": "Opposing", "eta": 0.25, "fp": 0.253}, {"Mn": "3.0", "flow": "Opposing", "eta": 0.5, "fp": 0.185}, {"Mn": "3.0", "flow": "Opposing", "eta": 0.75, "fp": 0.118}, {"Mn": "3.0", "flow": "Opposing", "eta": 1, "fp": 0.05}, {"Mn": "3.0", "flow": "Opposing", "eta": 1.25, "fp": 0.031}, {"Mn": "3.0", "flow": "Opposing", "eta": 1.5, "fp": 0.018}, {"Mn": "3.0", "flow": "Opposing", "eta": 2, "fp": 0.004}, {"Mn": "3.0", "flow": "Opposing", "eta": 2.5, "fp": -0.003}, {"Mn": "3.0", "flow": "Opposing", "eta": 3, "fp": -0.005}, {"Mn": "3.0", "flow": "Opposing", "eta": 4, "fp": -0.003}, {"Mn": "3.0", "flow": "Opposing", "eta": 5, "fp": -0.001}, {"Mn": "3.0", "flow": "Opposing", "eta": 6, "fp": 0},
      {"Mn": "4.0", "flow": "Opposing", "eta": 0, "fp": 0.3}, {"Mn": "4.0", "flow": "Opposing", "eta": 0.25, "fp": 0.234}, {"Mn": "4.0", "flow": "Opposing", "eta": 0.5, "fp": 0.168}, {"Mn": "4.0", "flow": "Opposing", "eta": 0.75, "fp": 0.101}, {"Mn": "4.0", "flow": "Opposing", "eta": 1, "fp": 0.035}, {"Mn": "4.0", "flow": "Opposing", "eta": 1.25, "fp": 0.018}, {"Mn": "4.0", "flow": "Opposing", "eta": 1.5, "fp": 0.008}, {"Mn": "4.0", "flow": "Opposing", "eta": 2, "fp": -0.002}, {"Mn": "4.0", "flow": "Opposing", "eta": 2.5, "fp": -0.005}, {"Mn": "4.0", "flow": "Opposing", "eta": 3, "fp": -0.006}, {"Mn": "4.0", "flow": "Opposing", "eta": 4, "fp": -0.003}, {"Mn": "4.0", "flow": "Opposing", "eta": 5, "fp": -0.001}, {"Mn": "4.0", "flow": "Opposing", "eta": 6, "fp": 0},
      {"Mn": "5.0", "flow": "Opposing", "eta": 0, "fp": 0.28}, {"Mn": "5.0", "flow": "Opposing", "eta": 0.25, "fp": 0.21}, {"Mn": "5.0", "flow": "Opposing", "eta": 0.5, "fp": 0.14}, {"Mn": "5.0", "flow": "Opposing", "eta": 0.75, "fp": 0.072}, {"Mn": "5.0", "flow": "Opposing", "eta": 1, "fp": 0.01}, {"Mn": "5.0", "flow": "Opposing", "eta": 1.25, "fp": -0.002}, {"Mn": "5.0", "flow": "Opposing", "eta": 1.5, "fp": -0.005}, {"Mn": "5.0", "flow": "Opposing", "eta": 2, "fp": -0.007}, {"Mn": "5.0", "flow": "Opposing", "eta": 2.5, "fp": -0.007}, {"Mn": "5.0", "flow": "Opposing", "eta": 3, "fp": -0.006}, {"Mn": "5.0", "flow": "Opposing", "eta": 4, "fp": -0.003}, {"Mn": "5.0", "flow": "Opposing", "eta": 5, "fp": -0.001}, {"Mn": "5.0", "flow": "Opposing", "eta": 6, "fp": 0}
    ],
    "textLeft": [
      {"eta": 0.29, "phi": 0.772, "label": "Mn = 0.0, 0.3, 0.6, 1.0, 1.2, 2.0, 3.0, 4.0, 5.0"},
      {"eta": 2.57, "phi": 0.93, "label": "ϕ"},
      {"eta": 1.89, "phi": 0.6, "label": "Assisting Flow"},
      {"eta": 1.89, "phi": 0.552, "label": "Opposing Flow"}
    ],
    "keyLeft": [
      {"flow": "Assisting", "eta": 3.62, "eta2": 4.76, "phi": 0.597},
      {"flow": "Opposing", "eta": 3.62, "eta2": 4.69, "phi": 0.548}
    ],
    "arrowLeft": [{"eta": 0.44, "phi": 0.337, "eta2": 1.25, "phi2": 0.456}],
    "textRight": [
      {"eta": 0.31, "fp": 0.562, "label": "Mn = 0.0, 0.3, 0.6, 1.0, 1.2, 2.0, 3.0, 4.0, 5.0"},
      {"eta": 2.16, "fp": 0.429, "label": "Assisting Flow"},
      {"eta": 2.16, "fp": 0.39, "label": "Opposing Flow"}
    ],
    "titleRight": [{"eta": 2.94, "fp": 0.638, "label": "f′"}],
    "keyRight": [
      {"flow": "Assisting", "eta": 4.14, "eta2": 5.57, "fp": 0.4256},
      {"flow": "Opposing", "eta": 4.14, "eta2": 5.58, "fp": 0.376}
    ],
    "arrowRight": [{"eta": 1.22, "fp": 0.318, "eta2": 0.105, "fp2": 0.138}]
  },
  "hconcat": [
    {
      "width": 342,
      "height": 418,
      "resolve": {"axis": {"x": "independent", "y": "independent"}},
      "layer": [
        {
          "data": {"name": "phi"},
          "mark": {"type": "line", "interpolate": "monotone", "strokeWidth": 1, "color": "black", "clip": true},
          "encoding": {
            "x": {"field": "eta", "type": "quantitative", "scale": {"domain": [0, 5], "nice": false, "zero": false},
                  "axis": {"values": [0, 1, 2, 3, 4, 5], "title": "η", "titlePadding": -3, "grid": false, "domainColor": "black", "domainWidth": 1.2, "tickColor": "black", "tickWidth": 1.5, "tickSize": -4, "labelPadding": 8, "labelColor": "black", "labelFont": "Liberation Serif", "labelFontSize": 18, "labelFlush": false, "labelOverlap": false, "titleFont": "Liberation Serif", "titleFontSize": 18, "titleFontWeight": "normal", "titleColor": "black"}},
            "y": {"field": "phi", "type": "quantitative", "scale": {"domain": [0, 1], "nice": false, "zero": false},
                  "axis": {"values": [0, 0.1, 0.2, 0.3, 0.4, 0.5, 0.6, 0.7, 0.8, 0.9, 1], "format": "~g", "title": null, "grid": false, "domainColor": "black", "domainWidth": 1.2, "tickColor": "black", "tickWidth": 1.5, "tickSize": -4, "labelPadding": 8, "labelColor": "black", "labelFont": "Liberation Serif", "labelFontSize": 18, "labelFlush": false, "labelOverlap": false}},
            "detail": [{"field": "Mn"}, {"field": "flow"}],
            "strokeDash": {"field": "flow", "type": "nominal", "scale": {"domain": ["Assisting", "Opposing"], "range": [[1, 0], [6, 4]]}, "legend": null}
          }
        },
        {
          "data": {"name": "textLeft"},
          "mark": {"type": "text", "align": "left", "baseline": "middle", "fontSize": 17, "font": "Liberation Serif", "color": "black"},
          "encoding": {
            "x": {"field": "eta", "type": "quantitative", "scale": {"domain": [0, 5], "nice": false, "zero": false},
                  "axis": {"orient": "top", "values": [0, 1, 2, 3, 4, 5], "labels": false, "domain": false, "title": null, "grid": false, "tickColor": "black", "tickWidth": 1.5, "tickSize": -4}},
            "y": {"field": "phi", "type": "quantitative", "scale": {"domain": [0, 1], "nice": false, "zero": false},
                  "axis": {"orient": "right", "values": [0, 0.1, 0.2, 0.3, 0.4, 0.5, 0.6, 0.7, 0.8, 0.9, 1], "labels": false, "domain": false, "title": null, "grid": false, "tickColor": "black", "tickWidth": 1.5, "tickSize": -4}},
            "text": {"field": "label"}
          }
        },
        {
          "data": {"name": "keyLeft"},
          "mark": {"type": "rule", "strokeWidth": 1, "color": "black"},
          "encoding": {
            "x": {"field": "eta", "type": "quantitative", "scale": {"domain": [0, 5], "nice": false, "zero": false}, "axis": null},
            "x2": {"field": "eta2"},
            "y": {"field": "phi", "type": "quantitative", "scale": {"domain": [0, 1], "nice": false, "zero": false}, "axis": null},
            "strokeDash": {"field": "flow", "type": "nominal", "scale": {"domain": ["Assisting", "Opposing"], "range": [[1, 0], [8, 6]]}, "legend": null}
          }
        },
        {
          "data": {"name": "arrowLeft"},
          "mark": {"type": "rule", "strokeWidth": 1.2, "color": "black"},
          "encoding": {
            "x": {"field": "eta", "type": "quantitative", "scale": {"domain": [0, 5], "nice": false, "zero": false}, "axis": null},
            "x2": {"field": "eta2"},
            "y": {"field": "phi", "type": "quantitative", "scale": {"domain": [0, 1], "nice": false, "zero": false}, "axis": null},
            "y2": {"field": "phi2"}
          }
        },
        {
          "data": {"name": "arrowLeft"},
          "mark": {"type": "point", "shape": "triangle-right", "filled": true, "color": "black", "size": 45, "angle": 318, "opacity": 1},
          "encoding": {
            "x": {"field": "eta2", "type": "quantitative", "scale": {"domain": [0, 5], "nice": false, "zero": false}, "axis": null},
            "y": {"field": "phi2", "type": "quantitative", "scale": {"domain": [0, 1], "nice": false, "zero": false}, "axis": null}
          }
        }
      ]
    },
    {
      "width": 340,
      "height": 416,
      "resolve": {"axis": {"x": "independent", "y": "independent"}},
      "layer": [
        {
          "data": {"name": "fp"},
          "mark": {"type": "line", "interpolate": "monotone", "strokeWidth": 1, "color": "black", "clip": true},
          "encoding": {
            "x": {"field": "eta", "type": "quantitative", "scale": {"domain": [0, 5.95], "nice": false, "zero": false},
                  "axis": {"values": [0, 1, 2, 3, 4, 5], "title": "η", "titlePadding": -3, "grid": false, "domainColor": "black", "domainWidth": 1.2, "tickColor": "black", "tickWidth": 1.5, "tickSize": -4, "labelPadding": 8, "labelColor": "black", "labelFont": "Liberation Serif", "labelFontSize": 18, "labelFlush": false, "labelOverlap": false, "titleFont": "Liberation Serif", "titleFontSize": 18, "titleFontWeight": "normal", "titleColor": "black"}},
            "y": {"field": "fp", "type": "quantitative", "scale": {"domain": [-0.1, 0.7], "nice": false, "zero": false},
                  "axis": {"values": [-0.1, 0, 0.1, 0.2, 0.3, 0.4, 0.5, 0.6, 0.7], "format": "~g", "grid": false, "domainColor": "black", "domainWidth": 1.2, "tickColor": "black", "tickWidth": 1.5, "tickSize": -4, "labelPadding": 8, "labelColor": "black", "labelFont": "Liberation Serif", "labelFontSize": 18, "labelFlush": false, "labelOverlap": false,
                           "title": "f′", "titleFont": "Liberation Serif", "titleFontSize": 18, "titleFontWeight": "normal", "titleColor": "black", "titleFontStyle": "italic", "titleAngle": 0, "titleX": -48, "titleY": 200, "titleAlign": "center", "titleBaseline": "middle"}},
            "detail": [{"field": "Mn"}, {"field": "flow"}],
            "strokeDash": {"field": "flow", "type": "nominal", "scale": {"domain": ["Assisting", "Opposing"], "range": [[1, 0], [6, 4]]}, "legend": null}
          }
        },
        {
          "data": {"name": "textRight"},
          "mark": {"type": "text", "align": "left", "baseline": "middle", "fontSize": 17, "font": "Liberation Serif", "color": "black"},
          "encoding": {
            "x": {"field": "eta", "type": "quantitative", "scale": {"domain": [0, 5.95], "nice": false, "zero": false},
                  "axis": {"orient": "top", "values": [0, 1, 2, 3, 4, 5], "labels": false, "domain": false, "title": null, "grid": false, "tickColor": "black", "tickWidth": 1.5, "tickSize": -4}},
            "y": {"field": "fp", "type": "quantitative", "scale": {"domain": [-0.1, 0.7], "nice": false, "zero": false},
                  "axis": {"orient": "right", "values": [-0.1, 0, 0.1, 0.2, 0.3, 0.4, 0.5, 0.6, 0.7], "labels": false, "domain": false, "title": null, "grid": false, "tickColor": "black", "tickWidth": 1.5, "tickSize": -4}},
            "text": {"field": "label"}
          }
        },
        {
          "data": {"name": "titleRight"},
          "mark": {"type": "text", "align": "left", "baseline": "middle", "fontSize": 17, "fontStyle": "italic", "font": "Liberation Serif", "color": "black"},
          "encoding": {
            "x": {"field": "eta", "type": "quantitative", "scale": {"domain": [0, 5.95], "nice": false, "zero": false}, "axis": null},
            "y": {"field": "fp", "type": "quantitative", "scale": {"domain": [-0.1, 0.7], "nice": false, "zero": false}, "axis": null},
            "text": {"field": "label"}
          }
        },
        {
          "data": {"name": "keyRight"},
          "mark": {"type": "rule", "strokeWidth": 1, "color": "black"},
          "encoding": {
            "x": {"field": "eta", "type": "quantitative", "scale": {"domain": [0, 5.95], "nice": false, "zero": false}, "axis": null},
            "x2": {"field": "eta2"},
            "y": {"field": "fp", "type": "quantitative", "scale": {"domain": [-0.1, 0.7], "nice": false, "zero": false}, "axis": null},
            "strokeDash": {"field": "flow", "type": "nominal", "scale": {"domain": ["Assisting", "Opposing"], "range": [[1, 0], [8, 6]]}, "legend": null}
          }
        },
        {
          "data": {"name": "arrowRight"},
          "mark": {"type": "rule", "strokeWidth": 1.2, "color": "black"},
          "encoding": {
            "x": {"field": "eta", "type": "quantitative", "scale": {"domain": [0, 5.95], "nice": false, "zero": false}, "axis": null},
            "x2": {"field": "eta2"},
            "y": {"field": "fp", "type": "quantitative", "scale": {"domain": [-0.1, 0.7], "nice": false, "zero": false}, "axis": null},
            "y2": {"field": "fp2"}
          }
        },
        {
          "data": {"name": "arrowRight"},
          "mark": {"type": "point", "shape": "triangle-right", "filled": true, "color": "black", "size": 45, "angle": 124, "opacity": 1},
          "encoding": {
            "x": {"field": "eta2", "type": "quantitative", "scale": {"domain": [0, 5.95], "nice": false, "zero": false}, "axis": null},
            "y": {"field": "fp2", "type": "quantitative", "scale": {"domain": [-0.1, 0.7], "nice": false, "zero": false}, "axis": null}
          }
        }
      ]
    }
  ]
}
